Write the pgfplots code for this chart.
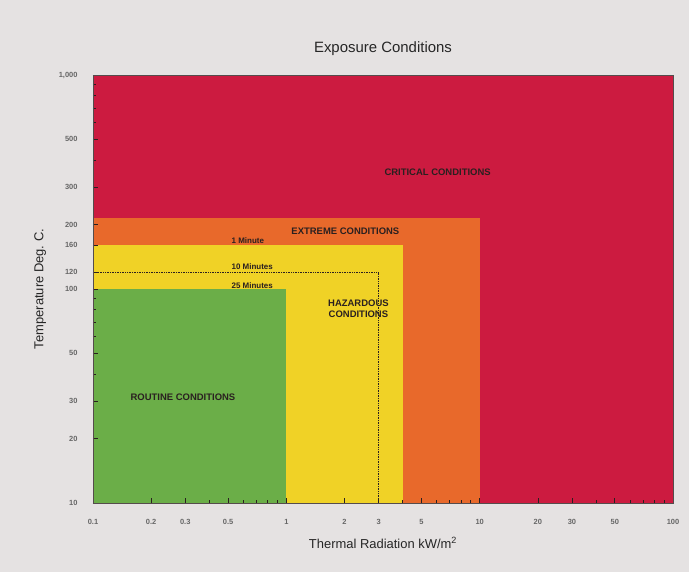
\documentclass[border=0pt]{standalone}
\usepackage{fontspec}
\setmainfont{Liberation Sans}
\usepackage{pgfplots}
\pgfplotsset{compat=1.18}

\definecolor{paper}{HTML}{E5E2E2}
\definecolor{critical}{HTML}{CC1B40}
\definecolor{extreme}{HTML}{E8692B}
\definecolor{hazard}{HTML}{F0D226}
\definecolor{routine}{HTML}{6BAE48}
\definecolor{ink}{HTML}{2A2020}

\newcommand{\zonefont}{\fontsize{9.5}{10.5}\selectfont\bfseries}
\newcommand{\timefont}{\fontsize{8}{9}\selectfont\bfseries}

\begin{document}
\begin{tikzpicture}
\fill[paper] (0,0) rectangle (689bp,572bp);
\useasboundingbox (0,0) rectangle (689bp,572bp);
\begin{axis}[
  at={(93bp,69bp)}, anchor=south west,
  scale only axis, width=580bp, height=428bp,
  xmode=log, ymode=log,
  xmin=0.1, xmax=100, ymin=10, ymax=1000,
  xtick={0.1,0.2,0.3,0.5,1,2,3,5,10,20,30,50,100},
  xticklabels={0.1,0.2,0.3,0.5,1,2,3,5,10,20,30,50,100},
  minor xtick={0.4,0.6,0.7,0.8,0.9,4,6,7,8,9,40,60,70,80,90},
  ytick={10,20,30,50,100,120,160,200,300,500,1000},
  yticklabels={10,20,30,50,100,120,160,200,300,500,{1,000}},
  minor ytick={40,60,70,80,90,400,600,700,800,900},
  tick pos=left, tick align=inside,
  major tick length=5bp, minor tick length=3bp,
  tick style={ink, line width=0.7pt},
  axis line style={ink!80, line width=0.6pt},
  axis on top,
  ticklabel style={font=\fontsize{7.5}{8}\selectfont\bfseries, text=black!60},
  xticklabel style={yshift=-13bp},
  yticklabel style={xshift=-12bp},
  title={Exposure Conditions},
  title style={font=\fontsize{15}{17}\selectfont, text=black!85, yshift=10bp},
  xlabel={Thermal Radiation kW/m\textsuperscript{2}},
  xlabel style={font=\fontsize{13}{15}\selectfont, text=black!85, yshift=-6bp},
  ylabel={Temperature Deg.\ C.},
  ylabel style={font=\fontsize{13}{15}\selectfont, text=black!85, yshift=6bp},
]
% nested exposure zones, largest first
\addplot[fill=critical, draw=none] coordinates {(0.1,10) (100,10) (100,1000) (0.1,1000)} -- cycle;
\addplot[fill=extreme, draw=none] coordinates {(0.1,10) (10,10) (10,215) (0.1,215)} -- cycle;
\addplot[fill=hazard, draw=none] coordinates {(0.1,10) (4,10) (4,160) (0.1,160)} -- cycle;
\addplot[fill=routine, draw=none] coordinates {(0.1,10) (1,10) (1,100) (0.1,100)} -- cycle;
% 10-minute exposure limit
\addplot[ink, densely dotted, line width=0.7pt] coordinates {(0.1,120) (3,120) (3,10)};

\node[font=\zonefont, text=ink] at (axis cs:6.06,352) {CRITICAL CONDITIONS};
\node[font=\zonefont, text=ink] at (axis cs:2.02,186) {EXTREME CONDITIONS};
\node[font=\timefont, text=ink, anchor=west] at (axis cs:0.5,169) {1 Minute};
\node[font=\timefont, text=ink, anchor=west] at (axis cs:0.5,127) {10 Minutes};
\node[font=\timefont, text=ink, anchor=west] at (axis cs:0.5,104) {25 Minutes};
\node[font=\zonefont, text=ink, align=center] at (axis cs:2.36,80.7) {HAZARDOUS\\CONDITIONS};
\node[font=\zonefont, text=ink] at (axis cs:0.292,31.3) {ROUTINE CONDITIONS};
\end{axis}
\end{tikzpicture}
\end{document}
